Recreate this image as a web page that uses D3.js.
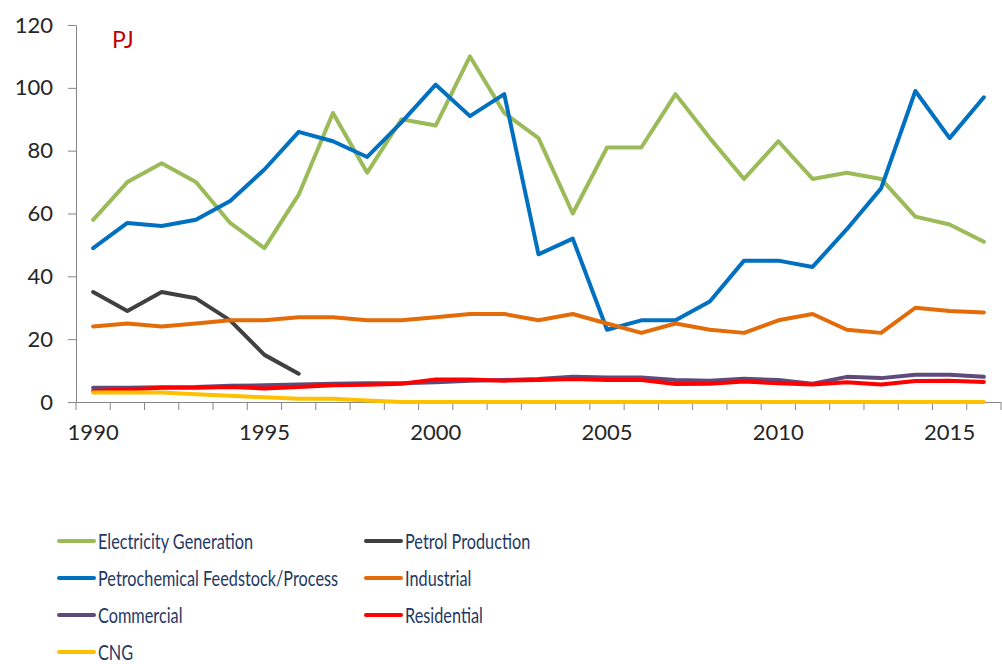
<!DOCTYPE html>
<meta charset="utf-8">
<style>
body { margin: 0; background: #fff; }
svg { font-family: Lato, "Open Sans", sans-serif; }
.axis text { fill: #262626; font-size: 22px; font-family: Lato, "Open Sans", sans-serif; }
.axis path, .axis line { stroke: #868686; }
.series { fill: none; stroke-width: 4px; stroke-linejoin: round; stroke-linecap: round; }
.legend text { fill: #1F3864; font-size: 22px; }
</style>
<body>
<script src="https://cdn.jsdelivr.net/npm/d3@7"></script>
<script>

// data (PJ)
var years = d3.range(1990, 2017);
var electricity = [58, 70, 76, 70, 57, 49, 66, 92, 73, 90, 88, 110, 92, 84, 60, 81, 81, 98, 84, 71, 83, 71, 73, 71, 59, 56.5, 51];
var petrol = [35, 29, 35, 33, 26, 15, 9];
var petrochem = [49, 57, 56, 58, 64, 74, 86, 83, 78, 89, 101, 91, 98, 47, 52, 23, 26, 26, 32, 45, 45, 43, 55, 68, 99, 84, 97];
var industrial = [24, 25, 24, 25, 26, 26, 27, 27, 26, 26, 27, 28, 28, 26, 28, 25, 22, 25, 23, 22, 26, 28, 23, 22, 30, 29, 28.5];
var commercial = [4.5, 4.5, 4.7, 4.8, 5.2, 5.3, 5.6, 5.8, 6, 6, 6.3, 6.8, 7, 7.3, 8, 7.8, 7.8, 7, 6.8, 7.4, 7, 5.8, 8, 7.6, 8.7, 8.7, 8];
var residential = [3.5, 4, 4.5, 4.5, 4.8, 4.3, 4.8, 5.3, 5.5, 5.8, 7.2, 7.2, 6.8, 7, 7.3, 7, 7, 5.7, 5.8, 6.5, 6, 5.6, 6.3, 5.6, 6.7, 6.8, 6.4];
var cng = [3, 3, 3, 2.5, 2, 1.5, 1, 1, 0.5, 0, 0, 0, 0, 0, 0, 0, 0, 0, 0, 0, 0, 0, 0, 0, 0, 0, 0];

var seriesNames = ["Electricity Generation", "Petrol Production", "Petrochemical Feedstock/Process",
                   "Industrial", "Commercial", "Residential", "CNG"];
var seriesValues = [electricity, petrol, petrochem, industrial, commercial, residential, cng];
var seriesColors = ["#9BBB59", "#404040", "#0070C0", "#E36C09", "#604A7B", "#FF0000", "#FFC000"];

var yTicks = [0, 20, 40, 60, 80, 100, 120];
var labelYears = [1990, 1995, 2000, 2005, 2010, 2015];

var width = 1002, height = 664;

var svg = d3.select("body").append("svg")
    .attr("width", width)
    .attr("height", height);

// scales
var x = d3.scaleBand()
    .domain(years)
    .range([76, 1001])
    .padding(0);

var y = d3.scaleLinear()
    .domain([0, 120])
    .range([402, 25]);

function cx(yr) { return x(yr) + x.bandwidth() / 2; }

// y axis
svg.append("g")
    .attr("class", "axis")
    .attr("transform", "translate(76,0)")
    .call(d3.axisLeft(y).tickValues(yTicks).tickSize(8).tickPadding(15).tickSizeOuter(0));

// x axis line + tick marks between categories
var xg = svg.append("g").attr("class", "axis");
xg.append("line")
    .attr("x1", 76).attr("x2", 1001)
    .attr("y1", 402.5).attr("y2", 402.5);
xg.selectAll(".xtick")
    .data(years.concat([2017]))
  .enter().append("line")
    .attr("class", "xtick")
    .attr("x1", function(d) { return d === 2017 ? 1001 : x(d); })
    .attr("x2", function(d) { return d === 2017 ? 1001 : x(d); })
    .attr("y1", 402)
    .attr("y2", 410);

svg.append("g")
    .attr("class", "axis")
    .attr("transform", "translate(0,402)")
    .call(d3.axisBottom(x).tickValues(labelYears).tickSize(0).tickPadding(22))
    .select(".domain").remove();

// unit label
svg.append("text")
    .attr("x", 112)
    .attr("y", 48)
    .attr("fill", "#C00000")
    .style("font-size", "23px")
    .text("PJ");

// lines
var line = d3.line()
    .x(function(d, i) { return cx(years[i]); })
    .y(function(d) { return y(d); });

svg.selectAll(".series")
    .data(seriesValues)
  .enter().append("path")
    .attr("class", "series")
    .attr("stroke", function(d, i) { return seriesColors[i]; })
    .attr("d", line);

// legend, two columns
var legend = svg.append("g").attr("class", "legend");
var items = legend.selectAll("g")
    .data(seriesNames)
  .enter().append("g")
    .attr("transform", function(d, i) {
      var col = i % 2, row = Math.floor(i / 2);
      return "translate(" + (col ? 366 : 59) + "," + (541 + row * 37) + ")";
    });

items.append("line")
    .attr("x1", 0).attr("x2", 35)
    .attr("y1", 0).attr("y2", 0)
    .attr("stroke-width", 4)
    .attr("stroke-linecap", "round")
    .attr("stroke", function(d, i) { return seriesColors[i]; });

// Calibri is narrower than Lato, so squeeze the text a bit
items.append("text")
    .attr("transform", "translate(39,0) scale(0.74,1)")
    .attr("dy", "0.35em")
    .text(function(d) { return d; });

</script>
</body>
